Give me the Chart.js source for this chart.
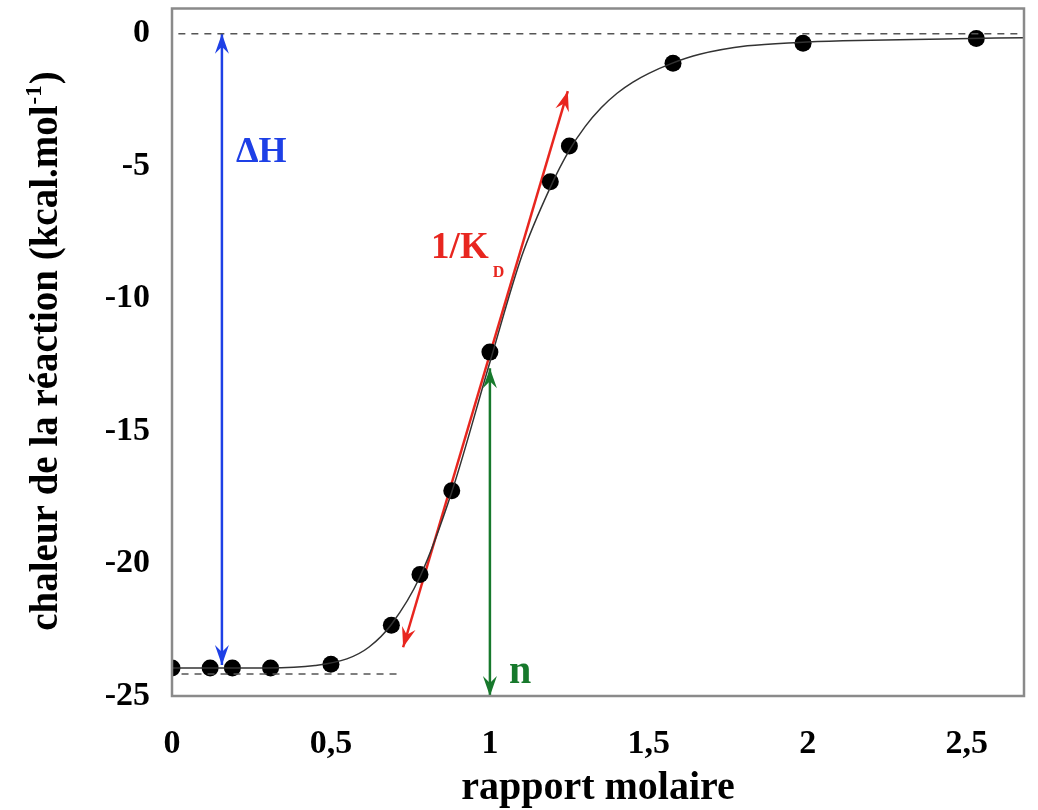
<!DOCTYPE html>
<html>
<head>
<meta charset="utf-8">
<script src="https://cdn.jsdelivr.net/npm/chart.js@4/dist/chart.umd.min.js"></script>
<style>
  html, body { margin: 0; padding: 0; background: #fff; }
</style>
</head>
<body>
<canvas id="itc" width="1038" height="810"></canvas>
<script>
// measured points (rapport molaire, kcal/mol)
const pointX = [0, 0.12, 0.19, 0.31, 0.50, 0.69, 0.78, 0.88, 1.00, 1.19, 1.25, 1.576, 1.985, 2.53];
const pointY = [-23.94, -23.94, -23.94, -23.94, -23.8, -22.33, -20.41, -17.25, -12.02, -5.59, -4.24, -1.12, -0.36, -0.18];

// fitted curve
const fitX = [0, 0.3, 0.45, 0.55, 0.62, 0.69, 0.78, 0.88, 1.0, 1.1, 1.19, 1.25, 1.30, 1.35, 1.40, 1.45, 1.50, 1.57, 1.66, 1.81, 1.97, 2.11, 2.43, 2.68];
const fitY = [-23.94, -23.94, -23.85, -23.6, -23.15, -22.3, -20.5, -17.3, -12.4, -8.4, -5.8, -4.4, -3.5, -2.8, -2.25, -1.83, -1.5, -1.13, -0.78, -0.46, -0.33, -0.27, -0.2, -0.15];

// reference dashed lines
const topLineX = [0.02, 2.68];
const topLineY = [0, 0];
const baseLineX = [0.03, 0.72];
const baseLineY = [-24.17, -24.17];

// arrows (start / end)
const dHX = [0.157, 0.157];
const dHY = [0, -23.83];
const kdX = [0.727, 1.245];
const kdY = [-23.16, -2.17];
const nX = [1.0, 1.0];
const nY = [-12.63, -25];

const xTicks = [0, 0.5, 1, 1.5, 2, 2.5];
const yTicks = [-25, -20, -15, -10, -5, 0];

const SERIF = '"Liberation Serif", "Times New Roman", serif';
const BLUE = '#1e40e6';
const RED = '#e8261f';
const GREEN = '#17792c';

function pts(xs, ys) {
  return xs.map((x, i) => ({ x: x, y: ys[i] }));
}

function arrowHead(ctx, x1, y1, x2, y2, color) {
  // head at (x2,y2), pointing away from (x1,y1)
  const a = Math.atan2(y2 - y1, x2 - x1);
  const len = 20, half = 7, notch = 13;
  ctx.save();
  ctx.translate(x2, y2);
  ctx.rotate(a);
  ctx.fillStyle = color;
  ctx.beginPath();
  ctx.moveTo(0, 0);
  ctx.lineTo(-len, -half);
  ctx.lineTo(-notch, 0);
  ctx.lineTo(-len, half);
  ctx.closePath();
  ctx.fill();
  ctx.restore();
}

const arrowPlugin = {
  id: 'arrows',
  afterDatasetsDraw(chart) {
    const ctx = chart.ctx;
    chart.data.datasets.forEach((ds, i) => {
      if (!ds.arrow) return;
      const d = chart.getDatasetMeta(i).data;
      const p0 = d[0], p1 = d[d.length - 1];
      arrowHead(ctx, p0.x, p0.y, p1.x, p1.y, ds.borderColor);
      arrowHead(ctx, p1.x, p1.y, p0.x, p0.y, ds.borderColor);
    });
  }
};

const decorPlugin = {
  id: 'decor',
  afterDraw(chart) {
    const ctx = chart.ctx;
    const a = chart.chartArea;
    const xs = chart.scales.x, ys = chart.scales.y;
    ctx.save();
    // frame
    ctx.strokeStyle = '#8a8a8a';
    ctx.lineWidth = 2.5;
    ctx.strokeRect(a.left, a.top, a.right - a.left, a.bottom - a.top);

    // annotations
    ctx.textBaseline = 'alphabetic';
    ctx.textAlign = 'left';
    ctx.fillStyle = BLUE;
    ctx.font = 'bold 36px ' + SERIF;
    ctx.fillText('\u0394H', xs.getPixelForValue(dHX[0]) + 14, ys.getPixelForValue(-4.85));

    ctx.fillStyle = RED;
    ctx.font = 'bold 37px ' + SERIF;
    const kx = xs.getPixelForValue(0.815), ky = ys.getPixelForValue(-8.45);
    ctx.fillText('1/K', kx, ky);
    const kw = ctx.measureText('1/K').width;
    ctx.font = 'bold 16px ' + SERIF;
    ctx.fillText('D', kx + kw + 4, ky + 19);

    ctx.fillStyle = GREEN;
    ctx.font = 'bold 40px ' + SERIF;
    ctx.fillText('n', xs.getPixelForValue(1.0) + 19, ys.getPixelForValue(-24.5));

    // axis titles
    ctx.fillStyle = '#000';
    ctx.font = 'bold 40px ' + SERIF;
    ctx.textAlign = 'center';
    ctx.fillText('rapport molaire', 598, 799);

    ctx.translate(57, 352);
    ctx.rotate(-Math.PI / 2);
    ctx.textAlign = 'left';
    const main = 'chaleur de la r\u00e9action (kcal.mol';
    ctx.font = 'bold 39px ' + SERIF;
    const w1 = ctx.measureText(main).width;
    const w3 = ctx.measureText(')').width;
    ctx.font = 'bold 23px ' + SERIF;
    const w2 = ctx.measureText('-1').width;
    let x0 = -(w1 + w2 + w3) / 2;
    ctx.font = 'bold 39px ' + SERIF;
    ctx.fillText(main, x0, 0);
    ctx.font = 'bold 23px ' + SERIF;
    ctx.fillText('-1', x0 + w1 + 1, -16);
    ctx.font = 'bold 39px ' + SERIF;
    ctx.fillText(')', x0 + w1 + w2 + 2, 0);
    ctx.restore();
  }
};

const lineStyle = { showLine: true, pointRadius: 0, fill: false };

new Chart(document.getElementById('itc'), {
  type: 'scatter',
  data: {
    datasets: [
      Object.assign({ label: 'zero', data: pts(topLineX, topLineY), borderColor: '#555', borderWidth: 1.5, borderDash: [7, 6] }, lineStyle),
      Object.assign({ label: 'base', data: pts(baseLineX, baseLineY), borderColor: '#555', borderWidth: 1.5, borderDash: [7, 6] }, lineStyle),
      Object.assign({ label: 'dH', data: pts(dHX, dHY), borderColor: BLUE, borderWidth: 2.5, arrow: true }, lineStyle),
      Object.assign({ label: 'n', data: pts(nX, nY), borderColor: GREEN, borderWidth: 2.5, arrow: true }, lineStyle),
      Object.assign({ label: 'fit', data: pts(fitX, fitY), borderColor: '#333', borderWidth: 1.5, cubicInterpolationMode: 'monotone' }, lineStyle),
      { label: 'mesures', data: pts(pointX, pointY), showLine: false, pointRadius: 8.5, pointBackgroundColor: '#000', pointBorderColor: '#000', pointBorderWidth: 0 },
      Object.assign({ label: 'Kd', data: pts(kdX, kdY), borderColor: RED, borderWidth: 2.5, arrow: true }, lineStyle)
    ]
  },
  options: {
    responsive: false,
    animation: false,
    devicePixelRatio: 1,
    layout: { padding: { top: 4, right: 14, left: 0, bottom: 0 } },
    plugins: { legend: { display: false }, tooltip: { enabled: false } },
    scales: {
      x: {
        type: 'linear',
        min: 0,
        max: 2.68,
        afterBuildTicks: s => { s.ticks = xTicks.map(v => ({ value: v })); },
        afterFit: s => { s.height = 114; s.paddingLeft = 0; s.paddingRight = 0; },
        grid: { display: false, drawTicks: false },
        border: { display: false },
        ticks: {
          padding: 28,
          color: '#000',
          font: { family: SERIF, size: 34, weight: 'bold' },
          callback: v => String(v).replace('.', ',')
        }
      },
      y: {
        type: 'linear',
        min: -25,
        max: 0.95,
        afterBuildTicks: s => { s.ticks = yTicks.map(v => ({ value: v })); },
        afterFit: s => { s.width = 172; s.paddingTop = 0; s.paddingBottom = 0; },
        grid: { display: false, drawTicks: false },
        border: { display: false },
        ticks: {
          padding: 22,
          color: '#000',
          font: { family: SERIF, size: 34, weight: 'bold' }
        }
      }
    }
  },
  plugins: [arrowPlugin, decorPlugin]
});
</script>
</body>
</html>
